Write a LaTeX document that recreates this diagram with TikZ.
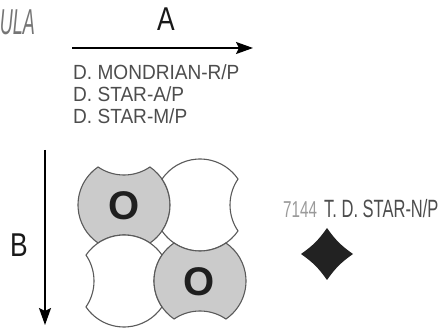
\documentclass[tikz,border=0pt]{standalone}
\usepackage{fontspec}
\setmainfont{Liberation Sans}[FakeStretch=0.93]
\newfontfamily\narrowfont{Liberation Sans}[FakeStretch=0.8]
\newfontfamily\tallfont{Liberation Sans}[FakeStretch=0.66]
\newfontfamily\partfont{Liberation Sans}[FakeStretch=0.5]
\newfontfamily\tilefont{Liberation Sans}
\usepackage{tikz}
\usetikzlibrary{arrows.meta}
\definecolor{tileline}{HTML}{5A5A5A}
\definecolor{tilegray}{HTML}{CBCBCB}
\definecolor{labelgray}{HTML}{4D4D4D}
\definecolor{codegray}{HTML}{9A9A9A}
\definecolor{partgray}{HTML}{757575}
\definecolor{starblack}{HTML}{222222}
\tikzset{>={Stealth[length=17pt,width=12pt,inset=3pt]},
  axis/.style={->,line width=2pt,draw=black},
  axistext/.style={inner sep=0pt,anchor=base,font=\narrowfont\fontsize{33}{33}\selectfont,text=black!90},
  listtext/.style={inner sep=0pt,anchor=base west,font=\fontsize{20.5}{20.5}\selectfont,text=labelgray},
  tile/.style={draw=tileline,line width=1.1pt},
  tiletext/.style={inner sep=0pt,font=\tilefont\bfseries\fontsize{40}{40}\selectfont,text=black!88},
  gray tile/.pic={
    \path[tile,fill=tilegray] (-55.7:46pt)
      arc[start angle=-55.7,end angle=55.7,radius=46pt]
      arc[start angle=-55.7,end angle=-124.3,radius=46pt]
      arc[start angle=124.3,end angle=235.7,radius=46pt]
      arc[start angle=124.3,end angle=55.7,radius=46pt] -- cycle;},
  white tile/.pic={
    \path[tile,fill=white] (34.3:46pt)
      arc[start angle=34.3,end angle=145.7,radius=46pt]
      arc[start angle=34.3,end angle=-34.3,radius=46pt]
      arc[start angle=214.3,end angle=325.7,radius=46pt]
      arc[start angle=214.3,end angle=145.7,radius=46pt] -- cycle;}}

\begin{document}
\begin{tikzpicture}[x=1pt,y=1pt]
\useasboundingbox (0,0) rectangle (444,329);
% cut off caption, top left
\node[inner sep=0pt,anchor=base east,font=\partfont\itshape\fontsize{36}{36}\selectfont,text=partgray] (part) at (35,294) {ULA};
% arrow A and its list
\coordinate (a0) at (72,281);
\coordinate (a1) at (253,281);
\draw[axis] (a0) -- (a1);
\node[axistext] (A) at (166,298) {A};
\node[listtext] (n1) at (73,249) {D. MONDRIAN-R/P};
\node[listtext] (n2) at (73,227) {D. STAR-A/P};
\node[listtext] (n3) at (73,205) {D. STAR-M/P};
% arrow B
\coordinate (b0) at (45,179);
\coordinate (b1) at (45,4);
\draw[axis] (b0) -- (b1);
\node[axistext] (B) at (19,72) {B};
% four tiles
\pic (tl) at (124,124) {gray tile};
\pic (tr) at (200,124) {white tile};
\pic (bl) at (124,48) {white tile};
\pic (br) at (200,48) {gray tile};
\node[tiletext] (o1) at (124,123) {O};
\node[tiletext] (o2) at (199,47) {O};
% insert
\node[listtext,font=\tallfont\fontsize{23}{23}\selectfont,text=codegray] (code) at (283,111) {7144};
\node[listtext,font=\tallfont\fontsize{25}{25}\selectfont] (ins) at (324,111) {T. D. STAR-N/P};
\coordinate (sN) at (327,101);
\coordinate (sE) at (353,75);
\coordinate (sS) at (327,49);
\coordinate (sW) at (301,75);
\fill[starblack] (sN) to[bend right=10] (sE) to[bend right=10] (sS) to[bend right=10] (sW) to[bend right=10] (sN) -- cycle;
\end{tikzpicture}
\end{document}
